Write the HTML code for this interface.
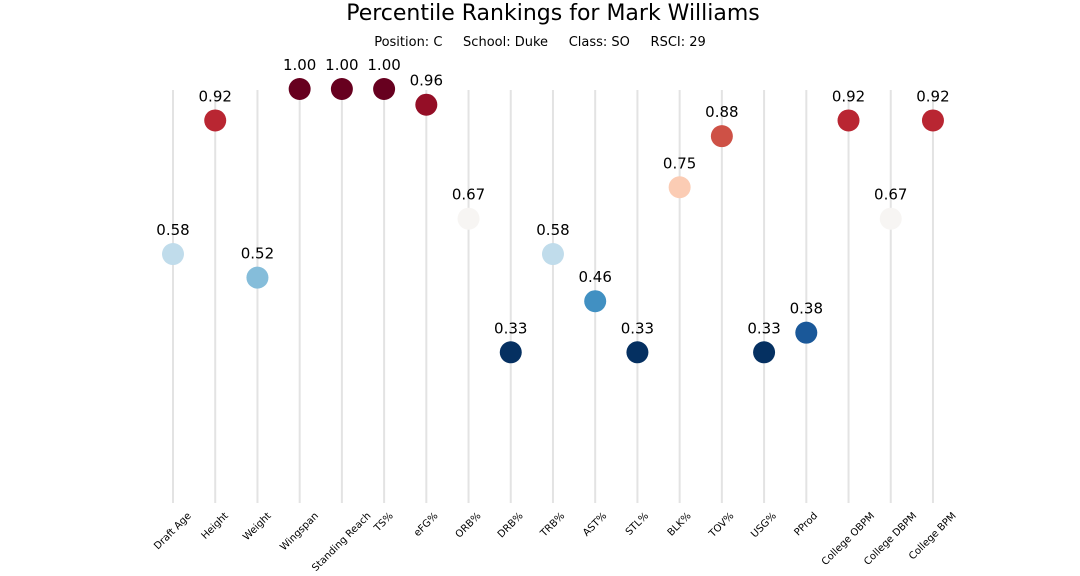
<!DOCTYPE html>
<html><head><meta charset="utf-8"><style>
body{margin:0;background:#fff;}
svg{display:block;font-family:"DejaVu Sans","Liberation Sans",sans-serif;}
</style></head><body>
<svg id="chart" width="1080" height="576" viewBox="0 0 1080 576" xmlns="http://www.w3.org/2000/svg">
<text x="553" y="20" font-size="22" text-anchor="middle" fill="#000">Percentile Rankings for Mark Williams</text>
<text x="540" y="46" font-size="13" text-anchor="middle" fill="#000" xml:space="preserve">Position: C     School: Duke     Class: SO     RSCI: 29</text>
<g id="plot"></g>
</svg>
<script>
const categories=["Draft Age","Height","Weight","Wingspan","Standing Reach","TS%","eFG%","ORB%","DRB%","TRB%","AST%","STL%","BLK%","TOV%","USG%","PProd","College OBPM","College DBPM","College BPM"];
const values=[0.58,0.92,0.52,1.00,1.00,1.00,0.96,0.67,0.33,0.58,0.46,0.33,0.75,0.88,0.33,0.38,0.92,0.67,0.92];
const valueLabels=["0.58","0.92","0.52","1.00","1.00","1.00","0.96","0.67","0.33","0.58","0.46","0.33","0.75","0.88","0.33","0.38","0.92","0.67","0.92"];
const stops=["#053061","#2166ac","#4393c3","#92c5de","#d1e5f0","#f7f7f7","#fddbc7","#f4a582","#d6604d","#b2182b","#67001f"];
const ns="http://www.w3.org/2000/svg";
const g=document.getElementById('plot');
const x0=173,dx=42.22;
function xs(i){return x0+i*dx;}
function ys(v){return 482-v*393;}
const vmin=Math.min(...values),vmax=Math.max(...values);
function hex(h){return [1,3,5].map(k=>parseInt(h.substr(k,2),16));}
function color(v){let t=(v-vmin)/(vmax-vmin||1)*(stops.length-1);let i=Math.min(Math.floor(t),stops.length-2);let f=t-i;let a=hex(stops[i]),b=hex(stops[i+1]);return 'rgb('+a.map((c,k)=>Math.round(c+(b[k]-c)*f)).join(',')+')';}
function mk(tag,attrs){const e=document.createElementNS(ns,tag);for(const k in attrs)e.setAttribute(k,attrs[k]);return e;}
categories.forEach((c,i)=>{
  const x=xs(i);
  const l=mk('line',{x1:x,x2:x,y1:90,y2:503,stroke:'#e3e3e3','stroke-width':2});
  
  
  g.appendChild(l);
  const t=mk('text',{x:x,y:0,'font-size':10,'text-anchor':'middle','dominant-baseline':'central'});
  t.textContent=c;
  
  
  g.appendChild(t);
  const L=t.getComputedTextLength();
  const cy=511+(L+10)*0.7071/2;
  t.setAttribute('y',cy);
  t.setAttribute('transform','rotate(-45 '+x+' '+cy+')');
});
values.forEach((v,i)=>{
  const x=xs(i),y=ys(v);
  const d=mk('circle',{cx:x,cy:y,r:11,fill:color(v)});
  
  
  g.appendChild(d);
  const t=mk('text',{x:x,y:y-19,'font-size':15,'text-anchor':'middle',fill:'#000'});
  t.textContent=valueLabels[i];
  
  
  g.appendChild(t);
});
</script>
</body></html>
